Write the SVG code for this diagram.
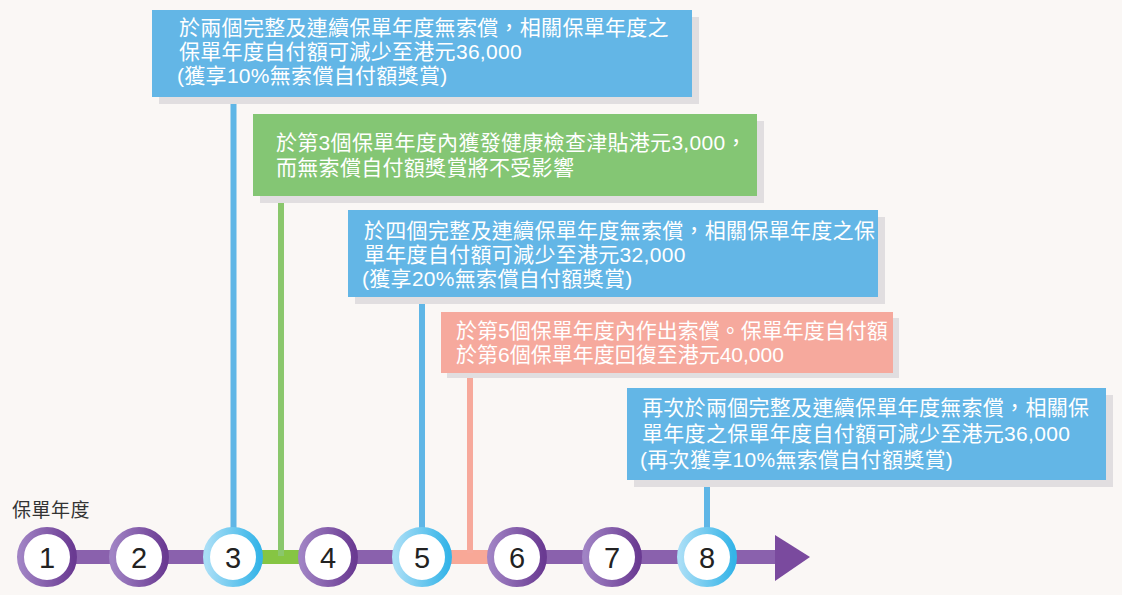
<svg xmlns="http://www.w3.org/2000/svg" width="1122" height="595" viewBox="0 0 1122 595">
<defs>
<linearGradient id="gP" x1="0" y1="0" x2="1" y2="0">
<stop offset="0" stop-color="#a083c4"/>
<stop offset="1" stop-color="#6a3a92"/>
</linearGradient>
<linearGradient id="gB" x1="0" y1="0" x2="1" y2="0">
<stop offset="0" stop-color="#a9def6"/>
<stop offset="1" stop-color="#35b4e8"/>
</linearGradient>
<style>
.box-t{font-family:"Liberation Sans","Noto Sans CJK TC",sans-serif;font-size:21px;fill:#fff;letter-spacing:0.3px}
.tight{letter-spacing:0px}
.shadow{fill:#e1dee0}
.blue{fill:#63b6e6}
.green{fill:#84c674}
.salmon{fill:#f6a99d}
.num{font-family:"Liberation Sans",Arial,sans-serif;font-size:29px;fill:#222;text-anchor:middle}
.ringP{fill:#fff;stroke:url(#gP);stroke-width:7}
.ringB{fill:#fff;stroke:url(#gB);stroke-width:7}
.lab{font-family:"Liberation Sans","Noto Sans CJK TC",sans-serif;font-size:19px;fill:#333;letter-spacing:0.5px}
</style>
</defs>
<rect width="1122" height="595" fill="#faf7f5"/>

<g id="connectors">
<rect x="47" y="550" width="730" height="14" fill="#8a61ad"/>
<polygon points="775,535 810,557 775,581" fill="#7a4a9e"/>
<rect x="260" y="550" width="44" height="14" fill="#86c543"/>
<rect x="449" y="550" width="44" height="14" fill="#f8a897"/>
<rect x="230.5" y="97" width="6" height="440" fill="#5fb6e6"/>
<rect x="278" y="196" width="6" height="360" fill="#8ac76c"/>
<rect x="419" y="297" width="6" height="240" fill="#5fb6e6"/>
<rect x="467" y="373" width="6" height="180" fill="#f7a99b"/>
<rect x="704" y="480" width="6" height="60" fill="#5fb6e6"/>
</g>

<g id="box1">
<rect class="shadow" x="159" y="17" width="540" height="87"/>
<rect class="blue" x="152" y="10" width="540" height="87"/>
<text class="box-t" x="179" y="35">於兩個完整及連續保單年度無索償，相關保單年度之</text>
<text class="box-t" x="179" y="58.5">保單年度自付額可減少至港元36,000</text>
<text class="box-t" x="177" y="82.5">(獲享10%無索償自付額獎賞)</text>
</g>

<g id="box2">
<rect class="shadow" x="260" y="121" width="504" height="82"/>
<rect class="green" x="253" y="114" width="504" height="82"/>
<text class="box-t" x="276" y="149.5">於第3個保單年度內獲發健康檢查津貼港元3,000，</text>
<text class="box-t" x="276" y="174.5">而無索償自付額獎賞將不受影響</text>
</g>

<g id="box3">
<rect class="shadow" x="355" y="217" width="530" height="87"/>
<rect class="blue" x="348" y="210" width="530" height="87"/>
<text class="box-t" x="364" y="237.5">於四個完整及連續保單年度無索償，相關保單年度之保</text>
<text class="box-t" x="364" y="261.5">單年度自付額可減少至港元32,000</text>
<text class="box-t" x="362" y="286">(獲享20%無索償自付額獎賞)</text>
</g>

<g id="box4">
<rect class="shadow" x="447" y="318" width="452" height="60"/>
<rect class="salmon" x="441" y="312" width="452" height="61"/>
<text class="box-t tight" x="456" y="337.5">於第5個保單年度內作出索償。保單年度自付額</text>
<text class="box-t tight" x="456" y="362">於第6個保單年度回復至港元40,000</text>
</g>

<g id="box5">
<rect class="shadow" x="634" y="395" width="479" height="92"/>
<rect class="blue" x="627" y="388" width="479" height="92"/>
<text class="box-t" x="642" y="415">再次於兩個完整及連續保單年度無索償，相關保</text>
<text class="box-t" x="642" y="440.5">單年度之保單年度自付額可減少至港元36,000</text>
<text class="box-t" x="640" y="466.5">(再次獲享10%無索償自付額獎賞)</text>
</g>

<g id="axis-label">
<text class="lab" x="12" y="517">保單年度</text>
</g>

<g id="year1"><circle class="ringP" cx="47" cy="557" r="26.5"/><text class="num" x="47" y="567.5">1</text></g>
<g id="year2"><circle class="ringP" cx="139" cy="557" r="26.5"/><text class="num" x="139" y="567.5">2</text></g>
<g id="year3"><circle class="ringB" cx="233" cy="557" r="26.5"/><text class="num" x="233" y="567.5">3</text></g>
<g id="year4"><circle class="ringP" cx="328" cy="557" r="26.5"/><text class="num" x="328" y="567.5">4</text></g>
<g id="year5"><circle class="ringB" cx="422" cy="557" r="26.5"/><text class="num" x="422" y="567.5">5</text></g>
<g id="year6"><circle class="ringP" cx="517" cy="557" r="26.5"/><text class="num" x="517" y="567.5">6</text></g>
<g id="year7"><circle class="ringP" cx="612" cy="557" r="26.5"/><text class="num" x="612" y="567.5">7</text></g>
<g id="year8"><circle class="ringB" cx="707" cy="557" r="26.5"/><text class="num" x="707" y="567.5">8</text></g>
</svg>
